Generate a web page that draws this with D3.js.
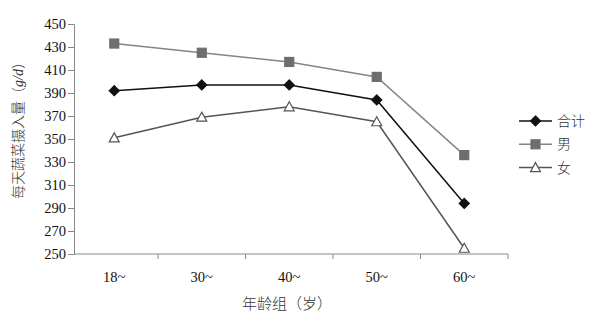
<!DOCTYPE html>
<html>
<head>
<meta charset="utf-8">
<script src="https://cdn.jsdelivr.net/npm/d3@7"></script>
<style>
  body { margin: 0; background: #fff; }
  svg { display: block; }
  .tick text { font-family: "Liberation Serif", "DejaVu Serif", serif; }
</style>
</head>
<body>
<div id="chart"></div>
<script>
// age groups and daily vegetable intake (g/d)
const categories = ['18~', '30~', '40~', '50~', '60~'];
const totalValues = [392, 397, 397, 384, 294];
const maleValues = [433, 425, 417, 404, 336];
const femaleValues = [351, 369, 378, 365, 255];
const yTicks = [250, 270, 290, 310, 330, 350, 370, 390, 410, 430, 450];
const seriesNames = ['合计', '男', '女'];

const width = 596;
const height = 330;
const margin = { top: 24, right: 88, bottom: 76, left: 74 };

const series = [
  { name: seriesNames[0], values: totalValues, line: '#111', marker: 'diamond', fill: '#111', stroke: '#111' },
  { name: seriesNames[1], values: maleValues, line: '#858585', marker: 'square', fill: '#6e6e6e', stroke: '#6e6e6e' },
  { name: seriesNames[2], values: femaleValues, line: '#555', marker: 'triangle', fill: '#fff', stroke: '#555' },
];

const cjkFont = '"Noto Sans CJK SC", sans-serif';

const svg = d3.select('#chart').append('svg')
    .attr('width', width)
    .attr('height', height);

const xScale = d3.scaleBand()
    .domain(categories)
    .range([70.5, 508]);

const yScale = d3.scaleLinear()
    .domain([250, 450])
    .range([height - margin.bottom, margin.top]);

const axisColor = '#888';

// y axis
const yAxis = d3.axisLeft(yScale)
    .tickValues(yTicks)
    .tickSize(6)
    .tickPadding(2);

const yG = svg.append('g')
    .attr('transform', `translate(${margin.left}, 0)`)
    .call(yAxis);
yG.select('.domain').attr('stroke', axisColor);
yG.selectAll('.tick line').attr('stroke', axisColor);
yG.selectAll('.tick text')
    .attr('fill', '#111')
    .attr('font-size', '14.5px');

// x axis: line along the bottom, ticks at band edges
const xG = svg.append('g')
    .attr('transform', `translate(0, ${yScale(250)})`);
xG.append('line')
    .attr('x1', margin.left)
    .attr('x2', xScale.range()[1])
    .attr('stroke', axisColor);
xG.selectAll('line.edge')
    .data(categories.slice(1).concat(['end']))
    .enter().append('line')
    .attr('class', 'edge')
    .attr('x1', d => (d === 'end' ? xScale.range()[1] : xScale(d)))
    .attr('x2', d => (d === 'end' ? xScale.range()[1] : xScale(d)))
    .attr('y1', 0)
    .attr('y2', 5)
    .attr('stroke', axisColor);
xG.selectAll('text.cat')
    .data(categories)
    .enter().append('text')
    .attr('class', 'cat')
    .attr('x', d => xScale(d) + xScale.bandwidth() / 2)
    .attr('y', 28)
    .attr('text-anchor', 'middle')
    .attr('font-family', '"Liberation Serif", serif')
    .attr('font-size', '14.5px')
    .attr('fill', '#111')
    .text(d => d);

// axis titles
svg.append('text')
    .attr('x', 287)
    .attr('y', 309)
    .attr('text-anchor', 'middle')
    .attr('font-family', cjkFont)
    .attr('font-weight', 300)
    .attr('font-size', '15px')
    .attr('fill', '#333')
    .text('年龄组（岁）');

const yTitle = svg.append('text')
    .attr('transform', 'translate(23, 127) rotate(-90)')
    .attr('text-anchor', 'middle')
    .attr('font-family', cjkFont)
    .attr('font-weight', 300)
    .attr('font-size', '14px')
    .attr('fill', '#333');
yTitle.append('tspan').text('每天蔬菜摄入量（');
yTitle.append('tspan')
    .attr('font-family', '"Liberation Serif", serif')
    .attr('font-style', 'italic')
    .text('g/d');
yTitle.append('tspan').text('）');

// markers
function drawMarker(sel, s) {
  if (s.marker === 'diamond') {
    sel.append('path').attr('d', 'M0,-5L5,0L0,5L-5,0Z');
  } else if (s.marker === 'square') {
    sel.append('rect').attr('x', -4.5).attr('y', -4.5).attr('width', 9).attr('height', 9);
  } else {
    sel.append('path').attr('d', 'M0,-5L5,4L-5,4Z');
  }
  sel.selectAll('path, rect')
    .attr('fill', s.fill)
    .attr('stroke', s.stroke)
    .attr('stroke-width', 1.2);
}

const line = d3.line()
    .x((d, i) => xScale(categories[i]) + xScale.bandwidth() / 2)
    .y(d => yScale(d));

series.forEach((s) => {
  svg.append('path')
    .datum(s.values)
    .attr('fill', 'none')
    .attr('stroke', s.line)
    .attr('stroke-width', 1.5)
    .attr('d', line);

  svg.selectAll(null)
    .data(s.values)
    .enter().append('g')
    .attr('transform', (d, i) => `translate(${xScale(categories[i]) + xScale.bandwidth() / 2}, ${yScale(d)})`)
    .each(function () { drawMarker(d3.select(this), s); });
});

// legend
const legend = svg.append('g')
    .attr('transform', 'translate(519, 121)');

series.forEach((s, i) => {
  const row = legend.append('g')
    .attr('transform', `translate(0, ${i * 23.3})`);
  row.append('line')
    .attr('x1', 0)
    .attr('x2', 33)
    .attr('stroke', s.line)
    .attr('stroke-width', 1.5);
  drawMarker(row.append('g').attr('transform', 'translate(16.5, 0)'), s);
  row.append('text')
    .attr('x', 38)
    .attr('y', 5)
    .attr('font-family', cjkFont)
    .attr('font-weight', 300)
    .attr('font-size', '14px')
    .attr('fill', '#333')
    .text(s.name);
});
</script>
</body>
</html>
